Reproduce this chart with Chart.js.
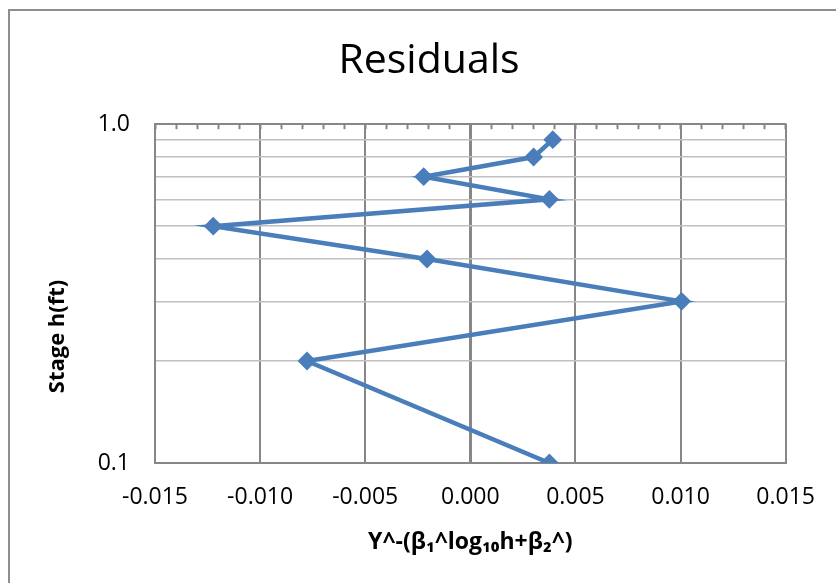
<!DOCTYPE html>
<html>
<head>
<meta charset="utf-8">
<title>Residuals</title>
<script src="https://cdn.jsdelivr.net/npm/chart.js@4/dist/chart.umd.min.js"></script>
<style>
  html, body { margin: 0; padding: 0; background: #fff; }
  #wrap { position: relative; width: 836px; height: 583px; overflow: hidden; }
  #frame {
    position: absolute; left: 8px; top: 9px; width: 900px; height: 700px;
    border-left: 2px solid #8e8e8e; border-top: 2px solid #8e8e8e;
  }
  canvas { position: absolute; left: 0; top: 0; }
</style>
</head>
<body>
<div id="wrap">
  <div id="frame"></div>
  <canvas id="chart" width="836" height="583"></canvas>
</div>
<script>
// residuals, one per stage value
const stage = [0.1, 0.2, 0.3, 0.4, 0.5, 0.6, 0.7, 0.8, 0.9];
const residual = [0.00376, -0.00777, 0.01005, -0.00206, -0.01223, 0.00376, -0.00222, 0.00301, 0.00392];
const xTicks = [-0.015, -0.010, -0.005, 0.000, 0.005, 0.010, 0.015];
const yTicks = [0.1, 0.2, 0.3, 0.4, 0.5, 0.6, 0.7, 0.8, 0.9, 1.0];
const yLabels = { 0.1: '0.1', 1: '1.0' };

const blue = '#4a7ebb';
const darkGrid = '#878787';
const lightGrid = '#c0c0c0';
const font = "'Open Sans', 'Liberation Sans', sans-serif";

const points = stage.map((h, i) => ({ x: residual[i], y: h }));

new Chart(document.getElementById('chart'), {
  type: 'scatter',
  data: {
    datasets: [{
      data: points,
      showLine: true,
      borderColor: blue,
      backgroundColor: blue,
      borderWidth: 4.5,
      pointStyle: 'rectRot',
      pointRadius: 8,
      pointBorderWidth: 2,
      pointHoverRadius: 8
    }]
  },
  options: {
    responsive: false,
    animation: false,
    events: [],
    layout: { padding: { left: 72, right: 50, top: 0, bottom: 0 } },
    plugins: {
      legend: { display: false },
      tooltip: { enabled: false },
      title: {
        display: true,
        text: 'Residuals',
        color: '#000',
        font: { family: font, size: 41, weight: 'normal', lineHeight: 1.2 },
        padding: { top: 37, bottom: 28 }
      }
    },
    scales: {
      x: {
        type: 'linear',
        position: 'bottom',
        min: xTicks[0],
        max: xTicks[xTicks.length - 1],
        afterBuildTicks: s => { s.ticks = xTicks.map(v => ({ value: v })); },
        afterFit: s => { s.height = 120; },
        ticks: {
          color: '#000',
          padding: 21,
          font: { family: font, size: 23 },
          callback: v => (Math.abs(v) < 1e-9 ? 0 : v).toFixed(3)
        },
        grid: {
          color: darkGrid,
          lineWidth: c => (c.tick && Math.abs(c.tick.value) < 1e-9 ? 3 : 2),
          drawTicks: false
        },
        border: { display: true, color: darkGrid, width: 2 },
        title: {
          display: true,
          text: 'Y^-(β₁^log₁₀h+β₂^)',
          color: '#000',
          font: { family: font, size: 23, weight: 'bold', lineHeight: 1.2 },
          padding: { top: 0, bottom: 27 }
        }
      },
      xTop: {
        type: 'linear',
        position: 'top',
        min: xTicks[0],
        max: xTicks[xTicks.length - 1],
        afterFit: s => { s.height = 10; },
        ticks: { display: false, stepSize: 0.001 },
        grid: {
          drawOnChartArea: false,
          drawTicks: true,
          tickLength: -5,
          tickColor: darkGrid,
          tickWidth: 2
        },
        border: { display: true, color: darkGrid, width: 2 }
      },
      y: {
        type: 'logarithmic',
        min: 0.1,
        max: 1,
        afterBuildTicks: s => { s.ticks = yTicks.map(v => ({ value: v })); },
        afterFit: s => { s.width = 83; },
        ticks: {
          color: '#000',
          padding: 25,
          autoSkip: false,
          font: { family: font, size: 23 },
          callback: v => {
            const key = Object.keys(yLabels).find(k => Math.abs(v - Number(k)) < 1e-9);
            return key ? yLabels[key] : '';
          }
        },
        grid: { color: lightGrid, lineWidth: 1.5, drawTicks: false },
        border: { display: true, color: darkGrid, width: 2 },
        title: {
          display: true,
          text: 'Stage h(ft)' + ' '.repeat(15),
          color: '#000',
          font: { family: font, size: 22, weight: 'bold', lineHeight: 1.2 },
          padding: { top: -27, bottom: 0 }
        }
      }
    }
  }
});
</script>
</body>
</html>
